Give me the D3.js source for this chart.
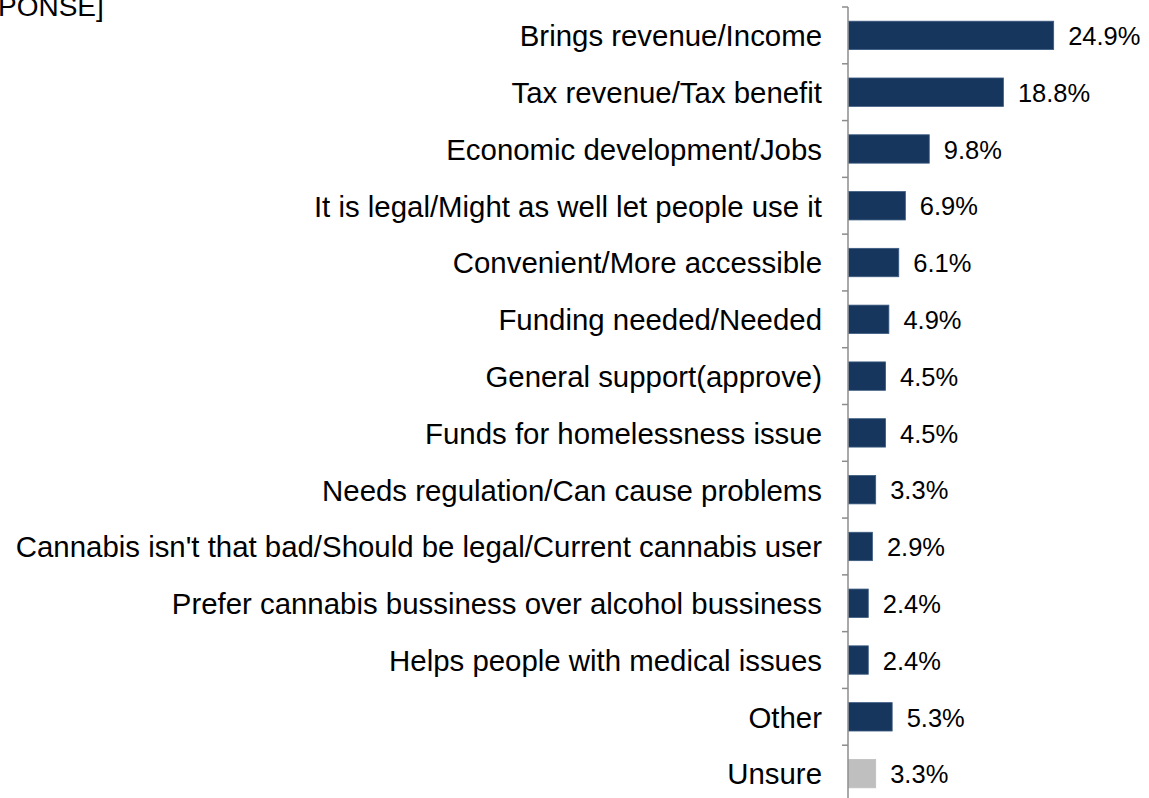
<!DOCTYPE html>
<html><head><meta charset="utf-8">
<script src="https://cdn.jsdelivr.net/npm/d3@7"></script>
<style>body{margin:0;background:#fff;}svg{display:block;font-family:"Liberation Sans",Arial,sans-serif;}</style>
</head><body>
<svg id="c" width="1149" height="798"></svg>
<script>
const categories = ["Brings revenue/Income","Tax revenue/Tax benefit","Economic development/Jobs","It is legal/Might as well let people use it","Convenient/More accessible","Funding needed/Needed","General support(approve)","Funds for homelessness issue","Needs regulation/Can cause problems","Cannabis isn't that bad/Should be legal/Current cannabis user","Prefer cannabis bussiness over alcohol bussiness","Helps people with medical issues","Other","Unsure"];
const values = [24.9,18.8,9.8,6.9,6.1,4.9,4.5,4.5,3.3,2.9,2.4,2.4,5.3,3.3];
const labels = values.map(v => v.toFixed(1) + "%");
const titleText = "PONSE]";

const svg = d3.select("#c");
const x0 = 848, yTop = 7, yBottom = 802;
const x = d3.scaleLinear().domain([0, 25]).range([x0, x0 + 206]);
const y = d3.scaleBand().domain(categories).range([yTop, yBottom]).paddingInner(0.5).paddingOuter(0.25);
const yTicks = d3.scaleBand().domain(categories).range([yTop, yBottom]);

svg.append("text").attr("x", -2).attr("y", 16).attr("font-size", 28).attr("fill", "#000").text(titleText);

// bars
svg.selectAll("rect.bar").data(categories).join("rect")
  .attr("x", x0 + 0.5).attr("y", d => y(d))
  .attr("width", (d,i) => x(values[i]) - x0)
  .attr("height", y.bandwidth())
  .attr("fill", (d,i) => d === "Unsure" ? "#bfbfbf" : "#17365d")
  .attr("stroke", (d,i) => d === "Unsure" ? "#bfbfbf" : "#3a5a80")
  .attr("stroke-width", 0.8);

// axis
const ax = svg.append("g").attr("transform", `translate(${x0},0)`);
ax.append("line").attr("x1",0).attr("x2",0).attr("y1",yTop).attr("y2",yBottom).attr("stroke","#8c8c8c").attr("stroke-width",1.5);
const tickYs = categories.map(c => yTicks(c)).concat([yBottom]);
ax.selectAll("line.t").data(tickYs).join("line").attr("class","t")
  .attr("x1",-6).attr("x2",0).attr("y1",d=>d).attr("y2",d=>d)
  .attr("stroke","#8c8c8c").attr("stroke-width",1.5);

// category labels
svg.selectAll("text.cat").data(categories).join("text")
  .attr("x", 822).attr("y", d => y(d) + y.bandwidth()/2)
  .attr("dy", "0.37em").attr("text-anchor", "end").attr("font-size", 29.4).attr("fill", "#000")
  .text(d => d);

// value labels
svg.selectAll("text.val").data(categories).join("text")
  .attr("x", (d,i) => x(values[i]) + 15).attr("y", d => y(d) + y.bandwidth()/2)
  .attr("dy", "0.38em").attr("font-size", 25.5).attr("fill", "#000")
  .text((d,i) => labels[i]);
</script>
</body></html>
